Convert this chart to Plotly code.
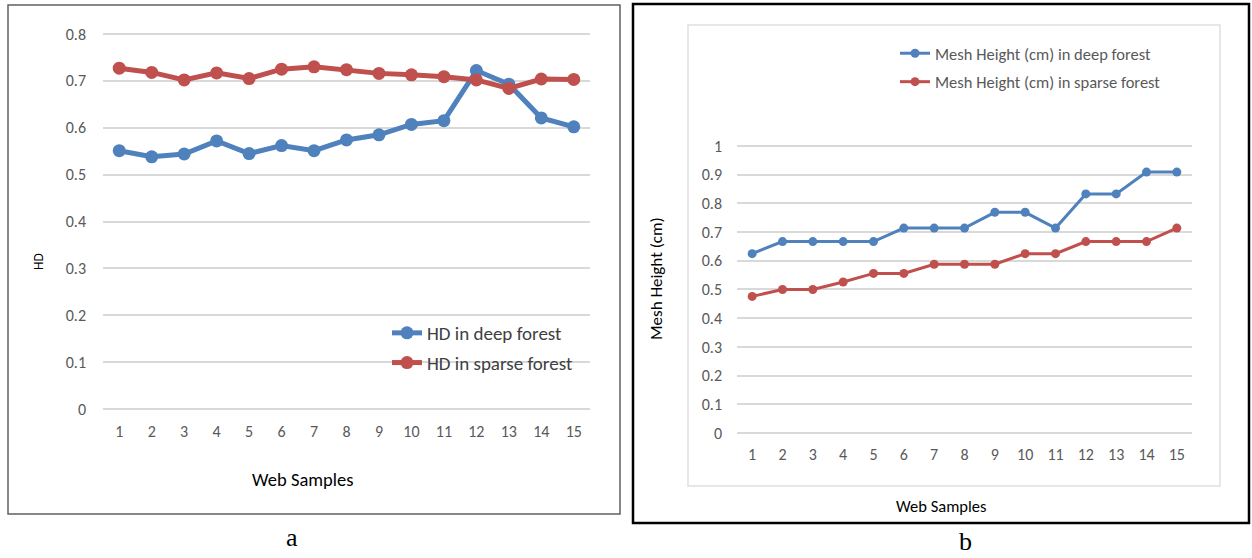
import plotly.graph_objects as go

samples = list(range(1, 16))
tick_labels = [str(s) for s in samples]

hd_deep = [0.551, 0.538, 0.544, 0.572, 0.545, 0.562, 0.551, 0.574, 0.585, 0.607, 0.615, 0.722, 0.693, 0.621, 0.602]
hd_sparse = [0.727, 0.718, 0.702, 0.717, 0.705, 0.725, 0.730, 0.724, 0.716, 0.713, 0.709, 0.702, 0.684, 0.704, 0.703]

mesh_deep = [0.625, 0.667, 0.667, 0.667, 0.667, 0.714, 0.714, 0.714, 0.769, 0.769, 0.714, 0.833, 0.833, 0.909, 0.909]
mesh_sparse = [0.476, 0.500, 0.500, 0.526, 0.556, 0.556, 0.588, 0.588, 0.588, 0.625, 0.625, 0.667, 0.667, 0.667, 0.714]

hd_ticks = [0, 0.1, 0.2, 0.3, 0.4, 0.5, 0.6, 0.7, 0.8]
mesh_ticks = [0, 0.1, 0.2, 0.3, 0.4, 0.5, 0.6, 0.7, 0.8, 0.9, 1]

W, H = 1252, 558
BLUE = "#4f81bd"
RED = "#c0504d"
FONT = "Carlito, Lato, sans-serif"


def px(x):
    return x / W


def py(y):
    return 1 - y / H


def ydomain(p_lo, p_hi, v_lo, v_hi, r_lo, r_hi):
    # pixel rows p_lo (value v_lo) and p_hi (value v_hi); returns paper domain for range r
    k = (p_hi - p_lo) / (v_hi - v_lo)
    return [py(p_lo + (r_lo - v_lo) * k), py(p_lo + (r_hi - v_lo) * k)]


HD_RANGE = [-0.004, 0.804]
MESH_RANGE = [-0.005, 1.005]

fig = go.Figure()

fig.add_trace(go.Scatter(x=samples, y=hd_deep, name="HD in deep forest", mode="lines+markers",
                         line=dict(color=BLUE, width=5), marker=dict(size=13, color=BLUE),
                         xaxis="x", yaxis="y", legend="legend", legendgroup="a1", cliponaxis=False))
fig.add_trace(go.Scatter(x=samples, y=hd_sparse, name="HD in sparse forest", mode="lines+markers",
                         line=dict(color=RED, width=5), marker=dict(size=13, color=RED),
                         xaxis="x", yaxis="y", legend="legend", legendgroup="a2", cliponaxis=False))
fig.add_trace(go.Scatter(x=samples, y=mesh_deep, name="Mesh Height (cm) in deep forest", mode="lines+markers",
                         line=dict(color=BLUE, width=3), marker=dict(size=9, color=BLUE),
                         xaxis="x2", yaxis="y2", legend="legend2", legendgroup="b1", cliponaxis=False))
fig.add_trace(go.Scatter(x=samples, y=mesh_sparse, name="Mesh Height (cm) in sparse forest", mode="lines+markers",
                         line=dict(color=RED, width=3), marker=dict(size=9, color=RED),
                         xaxis="x2", yaxis="y2", legend="legend2", legendgroup="b2", cliponaxis=False))

tickfont = dict(family=FONT, size=16, color="#595959")


def ann(text, x, y, size, angle=0, family=FONT):
    return dict(text=text, x=px(x), y=py(y), xref="paper", yref="paper", showarrow=False,
                xanchor="center", yanchor="middle", textangle=angle,
                font=dict(family=family, size=size, color="black"))


fig.update_layout(
    width=W, height=H,
    margin=dict(l=0, r=0, t=0, b=0, autoexpand=False),
    paper_bgcolor="white", plot_bgcolor="white",
    xaxis=dict(domain=[px(103), px(590)], anchor="y", range=[0.5, 15.5], automargin=False,
               tickmode="array", tickvals=samples, ticktext=tick_labels,
               showgrid=False, zeroline=False, showline=False, ticks="",
               ticklabelstandoff=9, tickfont=tickfont),
    yaxis=dict(domain=ydomain(409, 34, 0, 0.8, *HD_RANGE), anchor="x", range=HD_RANGE, automargin=False,
               tickmode="array", tickvals=hd_ticks, ticktext=[f"{v:g}" for v in hd_ticks],
               showgrid=True, gridcolor="#d9d9d9", gridwidth=2, zeroline=False, showline=False,
               ticks="", ticklabelstandoff=16, tickfont=tickfont),
    xaxis2=dict(domain=[px(737), px(1192)], anchor="y2", range=[0.5, 15.5], automargin=False,
                tickmode="array", tickvals=samples, ticktext=tick_labels,
                showgrid=False, zeroline=False, showline=False, ticks="",
                ticklabelstandoff=9, tickfont=tickfont),
    yaxis2=dict(domain=ydomain(433, 146, 0, 1, *MESH_RANGE), anchor="x2", range=MESH_RANGE, automargin=False,
                tickmode="array", tickvals=mesh_ticks, ticktext=[f"{v:g}" for v in mesh_ticks],
                showgrid=True, gridcolor="#d9d9d9", gridwidth=1.5, zeroline=False, showline=False,
                ticks="", ticklabelstandoff=14, tickfont=tickfont),
    legend=dict(x=px(387), y=py(314), xanchor="left", yanchor="top",
                font=dict(family=FONT, size=19, color="#404040"),
                bgcolor="rgba(0,0,0,0)", tracegroupgap=2, itemwidth=30),
    legend2=dict(x=px(895), y=py(36), xanchor="left", yanchor="top",
                 font=dict(family=FONT, size=16.5, color="#595959"),
                 bgcolor="rgba(0,0,0,0)", tracegroupgap=4, itemwidth=30),
    shapes=[
        dict(type="rect", xref="paper", yref="paper", x0=px(8), x1=px(620), y0=py(514), y1=py(5),
             line=dict(color="#606060", width=1.5), layer="below"),
        dict(type="rect", xref="paper", yref="paper", x0=px(633), x1=px(1249), y0=py(523), y1=py(4),
             line=dict(color="black", width=2.5), layer="below"),
        dict(type="rect", xref="paper", yref="paper", x0=px(688), x1=px(1220), y0=py(486), y1=py(25),
             line=dict(color="#e0e0e0", width=1.5), layer="below"),
    ],
    annotations=[
        ann("HD", 38, 262, 13.5, angle=-90),
        ann("Web Samples", 302, 479, 18.5),
        ann("Mesh Height (cm)", 656, 279, 17, angle=-90),
        ann("Web Samples", 941, 506, 16.5),
        ann("a", 292, 537, 26, family="Liberation Serif, serif"),
        ann("b", 965, 541, 26, family="Liberation Serif, serif"),
    ],
)

fig.write_html(
    "out.html",
    config={"displayModeBar": False},
    post_script="document.body.style.margin='0';document.body.style.overflow='hidden';",
)
